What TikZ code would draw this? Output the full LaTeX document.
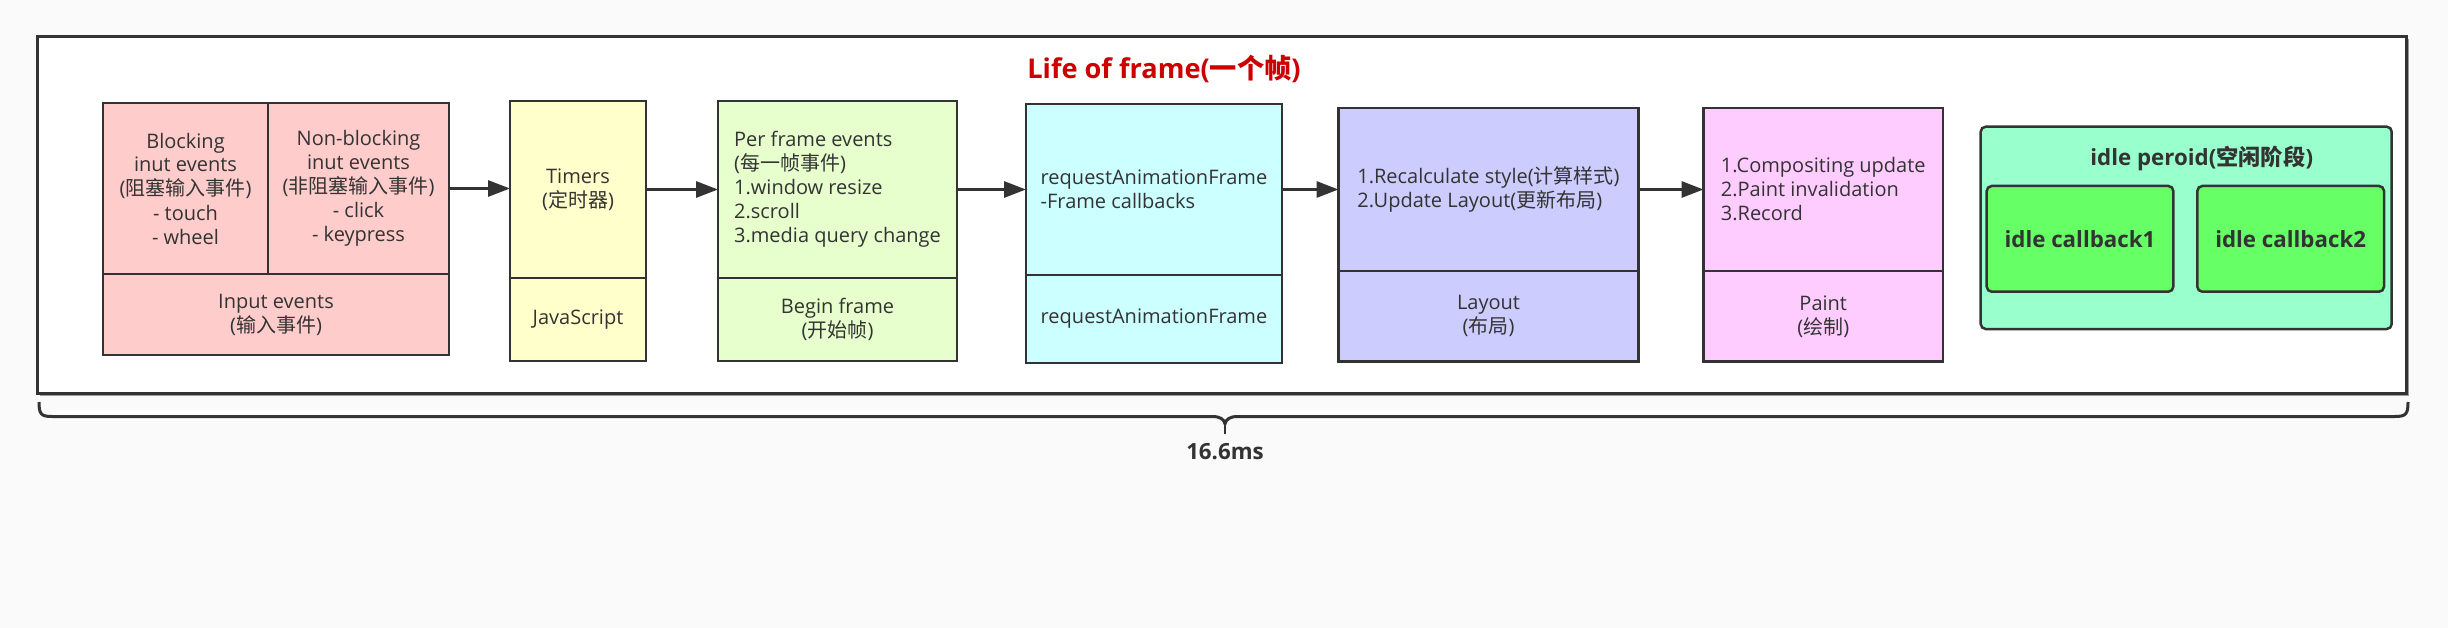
\documentclass[tikz,border=0pt]{standalone}
\usepackage{fontspec}
\setmainfont{Open Sans}
\newfontfamily\cjk{Noto Sans CJK SC}
\newcommand{\zh}[1]{{\cjk #1}}
\usetikzlibrary{arrows.meta}
\definecolor{stk}{HTML}{333333}
\definecolor{bgc}{HTML}{FAFAFA}
\definecolor{shd}{HTML}{9A9A9A}
\definecolor{cpink}{HTML}{FFCCCC}
\definecolor{cyel}{HTML}{FFFFCC}
\definecolor{cgrn}{HTML}{E6FFCC}
\definecolor{ccyan}{HTML}{CCFFFF}
\definecolor{clav}{HTML}{CCCCFF}
\definecolor{cmag}{HTML}{FFCCFF}
\definecolor{cidle}{HTML}{99FFCC}
\definecolor{ccb}{HTML}{66FF66}
\definecolor{ctitle}{HTML}{CC0000}
\begin{document}
\begin{tikzpicture}[x=1pt,y=-1pt,
  every node/.style={text=stk, font=\fontsize{20}{24}\selectfont, inner sep=0pt, outer sep=0pt},
  cell/.style={draw=stk, line width=2.5pt, anchor=north west, align=center},
  lcell/.style={cell, align=left},
  arr/.style={draw=stk, line width=3pt, -{Triangle[length=22pt,width=16pt]}},
  boldtxt/.style={font=\bfseries\fontsize{22.3}{27}\selectfont},
]
\fill[bgc] (0,0) rectangle (2448,628);
\useasboundingbox (0,0) rectangle (2448,628);

% outer frame with shadow
\fill[shd] (39.5,39.5) rectangle (2408.5,395.5);
\node[draw=stk, line width=3pt, fill=white, anchor=north west,
      minimum width=2369pt, minimum height=356pt] (frame) at (37,37) {};

% title
\node[text=ctitle, font=\bfseries\fontsize{27.2}{32}\selectfont] (title) at (1164,69)
  {Life of frame(\zh{一个帧})};

% input events
\node[cell, fill=cpink, minimum width=165pt, minimum height=171pt] (blk) at (103,103)
  {Blocking\\inut events\\(\zh{阻塞输入事件})\\- touch\\- wheel};
\node[cell, fill=cpink, minimum width=181pt, minimum height=171pt] (nblk) at (268,103)
  {Non-blocking\\inut events\\(\zh{非阻塞输入事件})\\- click\\- keypress};
\node[cell, fill=cpink, minimum width=346pt, minimum height=81pt] (inp) at (103,274)
  {Input events\\(\zh{输入事件})};

% timers
\node[cell, fill=cyel, minimum width=136pt, minimum height=177pt] (tim) at (510,101)
  {Timers\\(\zh{定时器})};
\node[cell, fill=cyel, minimum width=136pt, minimum height=83pt] (js) at (510,278)
  {JavaScript};

% per frame events
\node[lcell, fill=cgrn, minimum width=239pt, minimum height=177pt] (pf) at (718,101)
  {Per frame events\\(\zh{每一帧事件})\\1.window resize\\2.scroll\\3.media query change};
\node[cell, fill=cgrn, minimum width=239pt, minimum height=83pt] (bf) at (718,278)
  {Begin frame\\(\zh{开始帧})};

% rAF
\node[lcell, fill=ccyan, minimum width=256pt, minimum height=171pt] (raf) at (1026,104)
  {requestAnimationFrame\\-Frame callbacks};
\node[cell, fill=ccyan, minimum width=256pt, minimum height=88pt] (raf2) at (1026,275)
  {requestAnimationFrame};

% layout
\node[lcell, fill=clav, minimum width=300pt, minimum height=163pt] (lay) at (1338.5,108)
  {1.Recalculate style(\zh{计算样式})\\2.Update Layout(\zh{更新布局})};
\node[cell, fill=clav, minimum width=300pt, minimum height=90.5pt] (lay2) at (1338.5,271)
  {Layout\\(\zh{布局})};

% paint
\node[lcell, fill=cmag, minimum width=239.5pt, minimum height=163pt] (pai) at (1703.5,108)
  {1.Compositing update\\2.Paint invalidation\\3.Record};
\node[cell, fill=cmag, minimum width=239.5pt, minimum height=90.5pt] (pai2) at (1703.5,271)
  {Paint\\(\zh{绘制})};

% idle period
\node[draw=stk, line width=2.5pt, fill=cidle, rounded corners=5pt, anchor=north west,
      minimum width=411pt, minimum height=202.3pt] (idle) at (1980.7,126.7) {};
\node[boldtxt] (idlet) at (2201.7,158.3) {idle peroid(\zh{空闲阶段})};
\node[draw=stk, line width=2.5pt, fill=ccb, rounded corners=5pt, anchor=north west,
      minimum width=186.6pt, minimum height=105.7pt, boldtxt] (cb1) at (1986.7,186) {idle callback1};
\node[draw=stk, line width=2.5pt, fill=ccb, rounded corners=5pt, anchor=north west,
      minimum width=186.7pt, minimum height=105.7pt, boldtxt] (cb2) at (2197.3,186) {idle callback2};

% arrows
\draw[arr] (nblk.east) -- (tim.west |- nblk.east);
\draw[arr] (tim.east) -- (pf.west |- tim.east);
\draw[arr] (pf.east) -- (raf.west |- pf.east);
\draw[arr] (raf.east) -- (lay.west |- raf.east);
\draw[arr] (lay.east) -- (pai.west |- lay.east);

% brace
\coordinate (bl) at (39,402);
\coordinate (br) at (2408,402);
\coordinate (bm) at (1225,424);
\coordinate (bs) at (1225,434);
\draw[stk, line width=3pt, line join=round]
  (bl) .. controls (39,414) and (41,416.5) .. (52,416.5) -- (1212,416.5)
  .. controls (1220,416.5) and (1224,419) .. (bm)
  .. controls (1226,419) and (1230,416.5) .. (1238,416.5) -- (2395,416.5)
  .. controls (2406,416.5) and (2408,414) .. (br);
\draw[stk, line width=1.5pt] (bm) -- (bs);
\node[boldtxt] (ms) at (1225,452) {16.6ms};
\end{tikzpicture}
\end{document}
